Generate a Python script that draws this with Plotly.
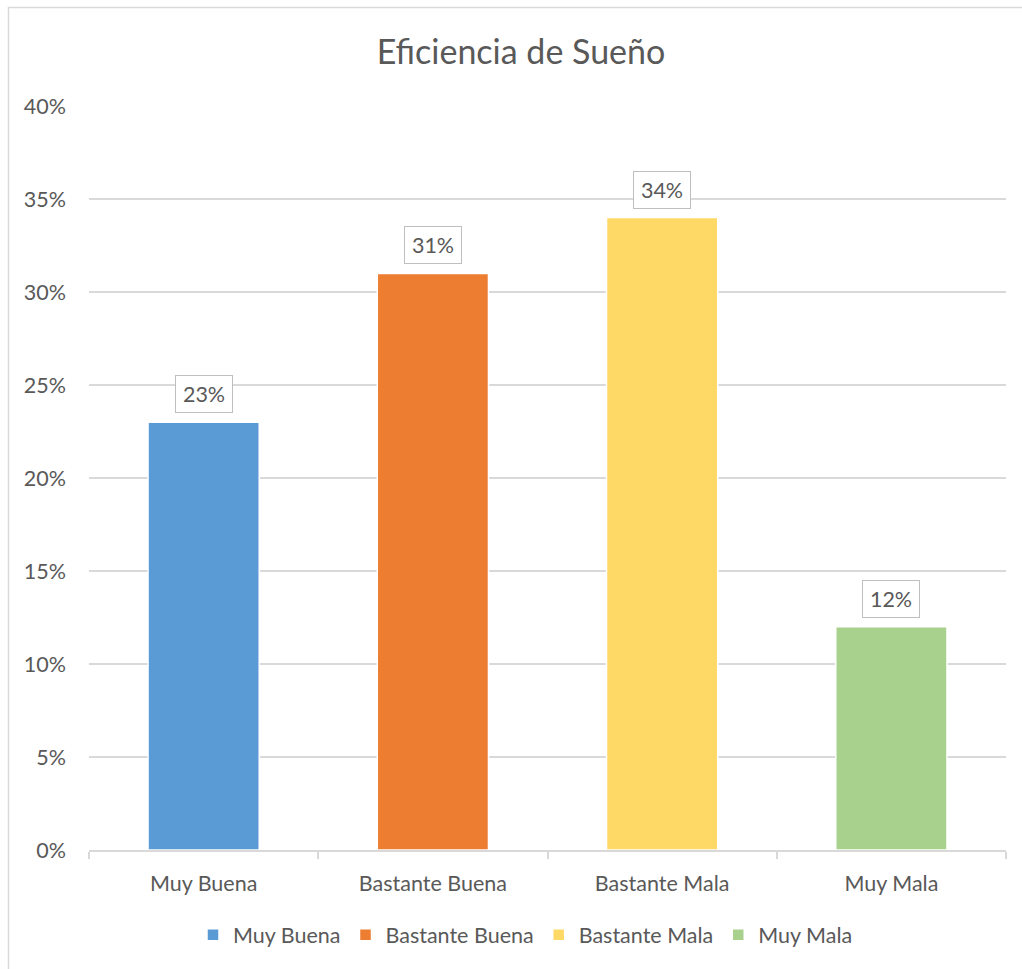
import plotly.graph_objects as go

# Sleep-efficiency categories and their shares
categories = ["Muy Buena", "Bastante Buena", "Bastante Mala", "Muy Mala"]
shares = [0.23, 0.31, 0.34, 0.12]
colors = ["#5B9BD5", "#ED7D31", "#FFD966", "#A9D18E"]
y_ticks = [0, 0.05, 0.10, 0.15, 0.20, 0.25, 0.30, 0.35, 0.40]

FONT = "Lato"
TEXT = "#595959"
GRID = "#D9D9D9"
FS = 21.5

fig = go.Figure()
for cat, val, col in zip(categories, shares, colors):
    fig.add_trace(go.Bar(
        x=[cat], y=[val], name=cat, width=0.485,
        marker=dict(color=col, line=dict(color="white", width=1.5)),
        hoverinfo="skip",
    ))
    # boxed value label above each bar
    fig.add_annotation(
        x=cat, y=val, text=f"{val:.0%}", showarrow=False,
        yanchor="bottom", yshift=9, width=56, height=36,
        bordercolor="#BFBFBF", borderwidth=1, borderpad=0, bgcolor="white",
        font=dict(family=FONT, size=FS, color=TEXT),
    )

# outer chart frame
fig.add_shape(type="rect", xref="paper", yref="paper",
              x0=-0.0878, x1=1.03, y0=-0.17, y1=1.1324,
              line=dict(color=GRID, width=1.5), fillcolor="rgba(0,0,0,0)", layer="below")

fig.update_layout(
    width=1022, height=969,
    margin=dict(l=89, r=16, t=106, b=119),
    paper_bgcolor="white", plot_bgcolor="white",
    barmode="overlay",
    title=dict(text="Eficiencia de Sueño", x=521 / 1022, xanchor="center",
               y=1 - 52 / 969, yanchor="middle", yref="container",
               font=dict(family=FONT, size=34, color=TEXT)),
    showlegend=True,
    legend=dict(orientation="h", x=0.476, xanchor="center", y=-0.114, yanchor="middle",
                font=dict(family=FONT, size=FS, color=TEXT), traceorder="normal",
                itemwidth=30),
    font=dict(family=FONT, color=TEXT),
)
fig.update_xaxes(
    categoryorder="array", categoryarray=categories,
    showgrid=False, showline=True, linecolor=GRID, linewidth=1.5,
    ticks="outside", tickson="boundaries", ticklen=7, tickcolor=GRID, tickwidth=1.5,
    tickfont=dict(family=FONT, size=FS, color=TEXT), ticklabelstandoff=13,
)
fig.update_yaxes(
    range=[0, 0.40], tickvals=y_ticks, tickformat=".0%",
    showgrid=True, gridcolor=GRID, gridwidth=1.5, zeroline=False, showline=False,
    tickfont=dict(family=FONT, size=FS, color=TEXT), ticklabelstandoff=22,
)

fig.write_html("out.html")
